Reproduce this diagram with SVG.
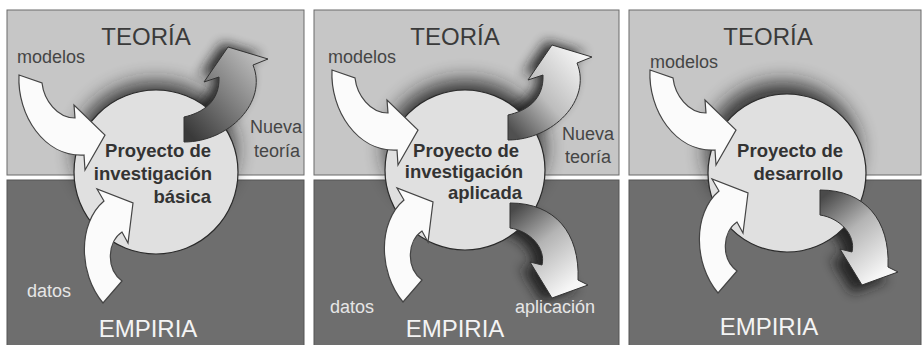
<svg xmlns="http://www.w3.org/2000/svg" width="922" height="345" viewBox="0 0 922 345">
<defs>
<style>
.top{fill:#c6c6c6;stroke:#6a6a6a;stroke-width:1}
.bot{fill:#6e6e6e;stroke:#555;stroke-width:1}
.circ{fill:#e0e0e0;stroke:#2a2a2a;stroke-width:1.2}
.warrow{fill:#fbfbfb;stroke:#444;stroke-width:1.2}
.garrow{stroke:#333;stroke-width:1}
.halo{fill:#1e1e1e;opacity:0.85;filter:url(#blur)}
.ashadow{fill:#1a1a1a;opacity:0.9;filter:url(#blur2)}
.big{font-family:"Liberation Sans",Arial,sans-serif;font-size:24px;text-anchor:middle}
.teoria{fill:#3a3a3a}
.empiria{fill:#f4f4f4}
.lbl{font-family:"Liberation Sans",Arial,sans-serif;font-size:18px}
.mid{text-anchor:middle}
.dark{fill:#454545}
.light{fill:#e6e6e6}
.proj{font-family:"Liberation Sans",Arial,sans-serif;font-size:18.5px;font-weight:bold;fill:#333;text-anchor:end}
</style>
<filter id="blur" x="-50%" y="-50%" width="200%" height="200%"><feGaussianBlur stdDeviation="10"/></filter>
<filter id="blur2" x="-50%" y="-50%" width="200%" height="200%"><feGaussianBlur stdDeviation="6"/></filter>
<path id="modArrow" d="M0,0 L23,8 C25,25 38,43 56,43 L55,30 L86,60 L66,95 L65,80 C25,82 -2,40 0,0 Z"/>
<path id="datArrow" d="M0,0 L-5,40 L-11,29 C-25,38 -28,65 -11,78 L-30,100 C-55,70 -55,20 -29,-2 L-36,-14 Z"/>
<path id="newArrow" d="M0,0 C18,-4 36,-15 35,-40 L20,-35 L44,-70 L84,-58 L69,-52 C84,-15 45,25 0,25 Z"/>
<path id="appArrow" d="M0,0 C45,0 70,30 68,77 L78,82 L42,95 L20,59 L32,62 C36,45 20,28 0,25 Z"/>
<linearGradient id="gNew1" x1="0" y1="0.85" x2="0.8" y2="0.05">
<stop offset="0" stop-color="#3a3a3a"/><stop offset="0.5" stop-color="#7c7c7c"/><stop offset="1" stop-color="#bcbcbc"/>
</linearGradient>
<linearGradient id="gNew2" x1="0" y1="0.85" x2="0.8" y2="0.05">
<stop offset="0" stop-color="#505050"/><stop offset="0.45" stop-color="#bdbdbd"/><stop offset="1" stop-color="#f4f4f4"/>
</linearGradient>
<linearGradient id="gApp" x1="0" y1="0.1" x2="0.6" y2="1">
<stop offset="0" stop-color="#4a4a4a"/><stop offset="0.45" stop-color="#b4b4b4"/><stop offset="1" stop-color="#f6f6f6"/>
</linearGradient>
<clipPath id="c1"><rect x="7" y="10" width="297" height="335"/></clipPath>
<clipPath id="c2"><rect x="314" y="10" width="305" height="335"/></clipPath>
<clipPath id="c3"><rect x="629" y="10" width="293" height="335"/></clipPath>
</defs>
<rect width="922" height="345" fill="#ffffff"/>

<!-- Panel 1 -->
<g id="p1-teoria"><rect class="top" x="7" y="10" width="297" height="165"/><text class="big teoria" x="146" y="45">TEORÍA</text></g>
<g id="p1-empiria"><rect class="bot" x="7" y="180" width="297" height="170"/><text class="big empiria" x="148" y="337">EMPIRIA</text></g>
<g clip-path="url(#c1)">
<ellipse class="halo" cx="155" cy="150" rx="80" ry="68"/>
<use href="#newArrow" class="ashadow" transform="translate(178,113)"/>
</g>
<g id="p1-proyecto"><circle class="circ" cx="156" cy="172" r="82"/></g>
<g id="p1-connectors">
<use href="#modArrow" class="warrow" transform="translate(19,75)"/>
<use href="#datArrow" class="warrow" transform="translate(133,203)"/>
<use href="#newArrow" class="garrow" fill="url(#gNew1)" transform="translate(184,117)"/>
<text class="lbl dark" x="17" y="63">modelos</text>
<text class="lbl dark mid" x="276" y="133">Nueva</text>
<text class="lbl dark mid" x="277" y="157">teoría</text>
<text class="lbl light" x="27" y="297">datos</text>
</g>
<g id="p1-proyecto-label">
<text class="proj" x="211" y="157">Proyecto de</text>
<text class="proj" x="212" y="180">investigación</text>
<text class="proj" x="211" y="203">básica</text>
</g>

<!-- Panel 2 -->
<g id="p2-teoria"><rect class="top" x="314" y="10" width="305" height="165"/><text class="big teoria" x="455" y="45">TEORÍA</text></g>
<g id="p2-empiria"><rect class="bot" x="314" y="180" width="305" height="170"/><text class="big empiria" x="455" y="337">EMPIRIA</text></g>
<g clip-path="url(#c2)">
<ellipse class="halo" cx="465" cy="148" rx="80" ry="68"/>
<use href="#newArrow" class="ashadow" transform="translate(502,111)"/>
<use href="#appArrow" class="ashadow" transform="translate(500,207)"/>
</g>
<g id="p2-proyecto"><circle class="circ" cx="465" cy="170" r="80"/></g>
<g id="p2-connectors">
<use href="#modArrow" class="warrow" transform="translate(332,70)"/>
<use href="#datArrow" class="warrow" transform="translate(433,202)"/>
<use href="#newArrow" class="garrow" fill="url(#gNew2)" transform="translate(508,115)"/>
<use href="#appArrow" class="garrow" fill="url(#gApp)" transform="translate(510,203)"/>
<text class="lbl dark" x="328" y="63">modelos</text>
<text class="lbl dark mid" x="588" y="140">Nueva</text>
<text class="lbl dark mid" x="588" y="163">teoría</text>
<text class="lbl light" x="330" y="313">datos</text>
<text class="lbl light" x="515" y="313">aplicación</text>
</g>
<g id="p2-proyecto-label">
<text class="proj" x="519" y="157">Proyecto de</text>
<text class="proj" x="523" y="178">investigación</text>
<text class="proj" x="522" y="199">aplicada</text>
</g>

<!-- Panel 3 -->
<g id="p3-teoria"><rect class="top" x="629" y="10" width="292" height="165"/><text class="big teoria" x="768" y="45">TEORÍA</text></g>
<g id="p3-empiria"><rect class="bot" x="629" y="180" width="292" height="170"/><text class="big empiria" x="769" y="335">EMPIRIA</text></g>
<g clip-path="url(#c3)">
<ellipse class="halo" cx="782" cy="150" rx="76" ry="68"/>
<use href="#appArrow" class="ashadow" transform="translate(810,198)"/>
</g>
<g id="p3-proyecto"><circle class="circ" cx="787" cy="173" r="79"/></g>
<g id="p3-connectors">
<use href="#modArrow" class="warrow" transform="translate(650,70)"/>
<use href="#datArrow" class="warrow" transform="translate(748,193)"/>
<use href="#appArrow" class="garrow" fill="url(#gApp)" transform="translate(820,190)"/>
<text class="lbl dark" x="650" y="68">modelos</text>
</g>
<g id="p3-proyecto-label">
<text class="proj" x="843" y="157">Proyecto de</text>
<text class="proj" x="843" y="180">desarrollo</text>
</g>
</svg>
